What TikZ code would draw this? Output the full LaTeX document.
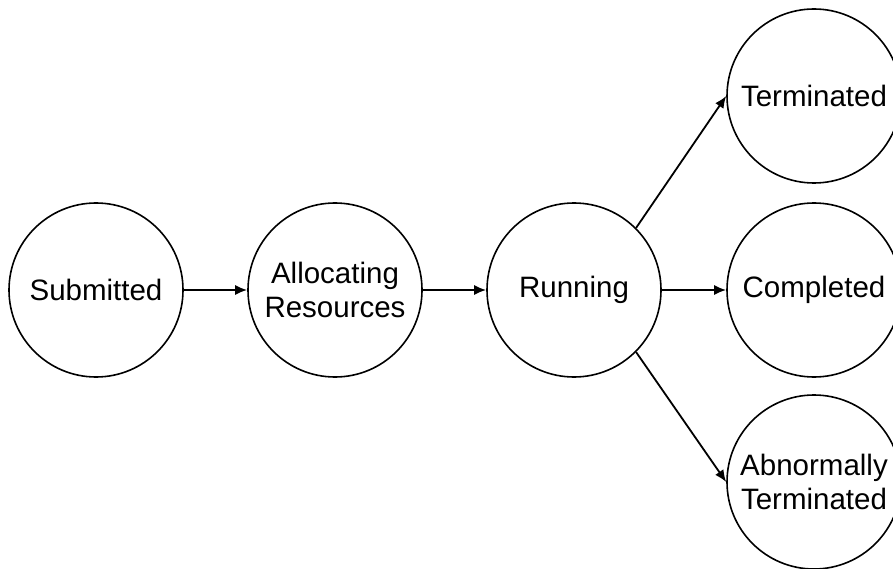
\documentclass[tikz,border=0pt]{standalone}
\usepackage{fontspec}
\setmainfont{Liberation Sans}
\usetikzlibrary{arrows.meta}
\tikzset{
  state/.style={circle, draw, line width=1.6pt, minimum size=174pt, inner sep=0pt,
    align=center, font=\fontsize{29.5}{34}\selectfont},
  flow/.style={line width=1.8pt, -{Latex[length=12pt,width=10pt]}}
}
\begin{document}
\begin{tikzpicture}[x=1pt,y=-1pt]
  \useasboundingbox (0,0) rectangle (893,569);
  \node[state] (sub) at (96,290) {Submitted};
  \node[state] (alloc) at (335,290) {Allocating\\Resources};
  \node[state] (run) at (574,290) {Running};
  \node[state] (term) at (814,96) {Terminated};
  \node[state] (comp) at (814,290) {Completed};
  \node[state] (abn) at (814,482) {Abnormally\\Terminated};
  \draw[flow] (sub) -- (alloc);
  \draw[flow] (alloc) -- (run);
  \draw[flow] (run) -- (comp);
  \draw[flow] (run.north east) -- (term.west);
  \draw[flow] (run.south east) -- (abn.west);
\end{tikzpicture}
\end{document}
